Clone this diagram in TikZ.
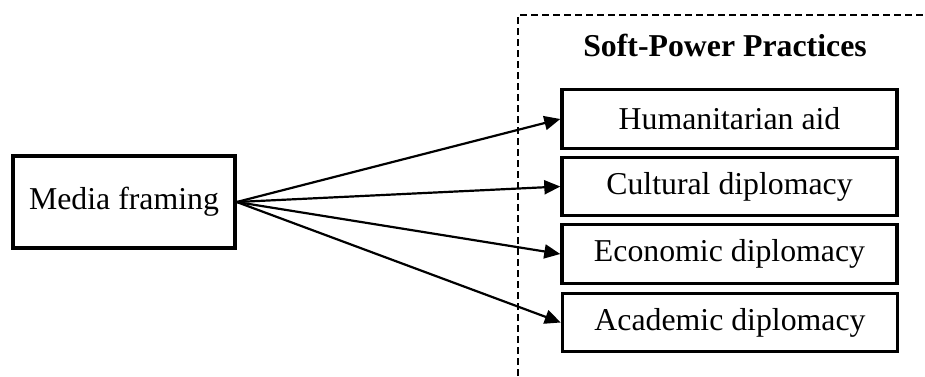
\documentclass[tikz,border=0pt]{standalone}
\usepackage{fontspec}
\setmainfont{Liberation Serif}
\usetikzlibrary{arrows.meta}
\begin{document}
\begin{tikzpicture}[x=0.5pt,y=-0.5pt,
  box/.style={draw,line width=1.7pt,rectangle,inner sep=0pt,font=\fontsize{15.9pt}{18pt}\selectfont},
  practice/.style={box,minimum width=167.5pt,minimum height=29.25pt},
  link/.style={line width=1.1pt,-{Triangle[length=8pt,width=7pt]}},
  frame/.style={line width=1.2pt,dash pattern=on 3.5pt off 2pt}]
  \useasboundingbox (0,0) rectangle (925,376);
  % group frame
  \coordinate (fb) at (518,376);
  \coordinate (ft) at (518,15);
  \coordinate (fr) at (925,15);
  \draw[frame] (fb) -- (ft) -- (fr);
  \node[font=\bfseries\fontsize{15.9pt}{18pt}\selectfont] (title) at (725,45) {Soft-Power Practices};
  % nodes
  \node[box,minimum width=111pt,minimum height=46pt] (media) at (124,202) {Media framing};
  \node[practice] (hum) at (729.5,119) {Humanitarian aid};
  \node[practice] (cul) at (729.5,186.5) {Cultural diplomacy};
  \node[practice] (eco) at (729.5,254) {Economic diplomacy};
  \node[practice] (aca) at (730,322.5) {Academic diplomacy};
  % connectors
  \foreach \t in {hum,cul,eco,aca}
    \draw[link] (media.east) -- (\t.west);
\end{tikzpicture}
\end{document}
